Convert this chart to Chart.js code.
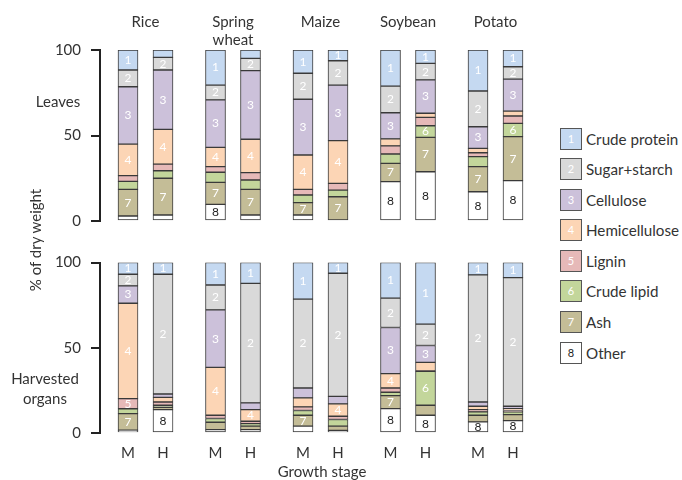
<!DOCTYPE html>
<html>
<head>
<meta charset="utf-8">
<script src="https://cdn.jsdelivr.net/npm/chart.js@4"></script>
<style>
  body { margin: 0; background: #fff; }
  #wrap { position: relative; width: 682px; height: 480px; font-family: Lato, "Open Sans", sans-serif; color: #333; }
  canvas { position: absolute; left: 0; }
  .lbl { position: absolute; font-size: 15px; text-align: center; white-space: nowrap; line-height: 20px; }
  #legend { position: absolute; left: 560px; top: 128px; }
  .item { display: flex; align-items: center; height: 21px; margin-bottom: 9.6px; font-size: 15.2px; }
  .box { width: 20px; height: 20px; border: 1px solid #555; font-size: 11px; text-align: center; line-height: 20px; margin-right: 4px; color: #fff; }
</style>
</head>
<body>
<div id="wrap">
  <canvas id="top" width="545" height="240" style="top:0"></canvas>
  <canvas id="bot" width="545" height="240" style="top:240px"></canvas>
  <div class="lbl" style="left:-30px;top:230px;width:130px;transform:rotate(-90deg)">% of dry weight</div>
  <div class="lbl" style="left:28px;top:91px;width:60px">Leaves</div>
  <div class="lbl" style="left:5px;top:368px;width:80px">Harvested<br>organs</div>
  <div class="lbl" style="left:262px;top:461px;width:120px">Growth stage</div>
  <div id="legend"></div>
</div>
<script>
// crops and growth stages
const crops = ['Rice', 'Spring\nwheat', 'Maize', 'Soybean', 'Potato'];
const stages = ['M', 'H'];

const components = ['Crude protein', 'Sugar+starch', 'Cellulose', 'Hemicellulose', 'Lignin', 'Crude lipid', 'Ash', 'Other'];
const colors = ['#c5d9f1', '#d9d9d9', '#ccc1da', '#fcd5b5', '#e6b9b8', '#c3d69b', '#c4bd97', '#ffffff'];

// leaves, % of dry weight, order: Rice M, Rice H, Spring wheat M, H, Maize M, H, Soybean M, H, Potato M, H
const leafProtein   = [11.7, 4.3, 20.5, 4.9, 13.6, 6.3, 21.1, 7.8, 24.0, 9.8];
const leafSugar     = [9.8, 7.4, 8.7, 7.2, 15.2, 14.2, 15.6, 9.7, 20.9, 7.2];
const leafCellulose = [33.5, 34.7, 27.7, 40.1, 32.6, 32.5, 15.3, 19.5, 12.6, 18.7];
const leafHemi      = [18.5, 20.3, 11.3, 19.5, 20.1, 25.0, 4.1, 2.4, 2.6, 2.9];
const leafLignin    = [3.3, 3.9, 3.3, 4.3, 3.3, 3.9, 4.7, 4.9, 2.3, 4.3];
const leafLipid     = [4.7, 4.4, 5.9, 5.5, 4.5, 3.9, 5.5, 6.8, 5.8, 7.8];
const leafAsh       = [15.6, 21.5, 12.9, 15.0, 7.2, 14.2, 10.7, 20.1, 14.7, 25.7];
const leafOther     = [2.9, 3.5, 9.7, 3.5, 3.5, 0, 23.0, 28.8, 17.1, 23.6];

// harvested organs, same order
const orgProtein   = [6.9, 6.9, 13.2, 12.2, 21.5, 6.3, 20.9, 36.1, 7.3, 8.9];
const orgSugar     = [6.8, 70.2, 14.6, 70.1, 52.1, 72.2, 17.2, 12.6, 74.5, 75.4];
const orgCellulose = [10.2, 2.0, 33.7, 4.0, 5.8, 4.4, 27.1, 9.9, 2.5, 1.4];
const orgHemi      = [55.9, 2.7, 28.1, 6.8, 5.3, 7.3, 8.4, 5.0, 2.0, 1.1];
const orgLignin    = [6.0, 1.9, 1.9, 1.4, 2.1, 1.9, 2.5, 0.3, 1.3, 0.8];
const orgLipid     = [2.8, 1.2, 2.2, 1.5, 2.8, 3.9, 2.0, 19.8, 2.0, 1.6];
const orgAsh       = [9.8, 1.4, 4.3, 2.0, 6.4, 2.5, 7.6, 5.9, 3.9, 3.5];
const orgOther     = [1.6, 13.7, 2.0, 2.0, 4.0, 1.5, 14.3, 10.4, 6.5, 7.3];

const yTicks = [0, 50, 100];

const leafSeries = [leafProtein, leafSugar, leafCellulose, leafHemi, leafLignin, leafLipid, leafAsh, leafOther];
const orgSeries = [orgProtein, orgSugar, orgCellulose, orgHemi, orgLignin, orgLipid, orgAsh, orgOther];

// slot on the x scale for each bar: 5 slots per crop, M at 0 and H at 2
const slots = [];
const slotLabel = {};
crops.forEach((c, ci) => stages.forEach((s, si) => {
  const x = ci * 5 + si * 2;
  slots.push(x);
  slotLabel[x] = s;
}));

const FONT = 'Lato, "Open Sans", sans-serif';
const TXT = '#333';

function makeDatasets(series) {
  const out = [];
  // bottom of stack first: Other ... Crude protein
  for (let k = series.length - 1; k >= 0; k--) {
    out.push({
      label: components[k],
      num: k + 1,
      data: series[k].map((v, i) => ({ x: slots[i], y: v })),
      backgroundColor: colors[k],
      borderColor: '#3a3a3a',
      borderWidth: 1,
      borderSkipped: false,
      barThickness: 20
    });
  }
  return out;
}

// numbers inside the bigger segments
const segLabels = {
  id: 'segLabels',
  afterDatasetsDraw(chart) {
    const ctx = chart.ctx;
    ctx.save();
    ctx.font = '12px ' + FONT;
    ctx.textAlign = 'center';
    ctx.textBaseline = 'middle';
    chart.data.datasets.forEach((ds, i) => {
      chart.getDatasetMeta(i).data.forEach((bar, j) => {
        if (ds.data[j].y < 6) return;
        ctx.fillStyle = ds.num === 8 ? '#222' : '#fff';
        ctx.fillText(String(ds.num), bar.x, (bar.y + bar.base) / 2);
      });
    });
    ctx.restore();
  }
};

// crop names above the top panel
const cropTitles = {
  id: 'cropTitles',
  afterDraw(chart) {
    const ctx = chart.ctx, xs = chart.scales.x;
    ctx.save();
    ctx.font = '15px ' + FONT;
    ctx.fillStyle = TXT;
    ctx.textAlign = 'center';
    ctx.textBaseline = 'middle';
    crops.forEach((c, ci) => {
      const cx = (xs.getPixelForValue(slots[ci * 2]) + xs.getPixelForValue(slots[ci * 2 + 1])) / 2;
      c.split('\n').forEach((line, li) => ctx.fillText(line, cx, 22 + li * 18));
    });
    ctx.restore();
  }
};

function yScale() {
  return {
    stacked: true, min: 0, max: 100,
    afterFit(s) { s.width = 100; },
    afterBuildTicks(s) { s.ticks = yTicks.map(v => ({ value: v })); },
    ticks: { padding: 10, color: TXT, font: { family: FONT, size: 15 } },
    grid: { drawOnChartArea: false, tickLength: 9, color: '#222', lineWidth: 2 },
    border: { color: '#222', width: 2 }
  };
}

function xScale(height, showLabels) {
  return {
    type: 'linear', offset: false, stacked: true, min: -1.6, max: 23.4,
    afterFit(s) { s.height = height; },
    afterBuildTicks(s) { s.ticks = slots.map(v => ({ value: v })); },
    grid: { display: false }, border: { display: false },
    ticks: {
      autoSkip: false, maxRotation: 0, padding: 3,
      color: TXT, font: { family: FONT, size: 15 },
      callback: v => showLabels ? (slotLabel[v] || '') : ''
    }
  };
}

const common = {
  responsive: false,
  animation: false,
  devicePixelRatio: 1,
  plugins: { legend: { display: false }, tooltip: { enabled: false } }
};

new Chart(document.getElementById('top'), {
  type: 'bar',
  data: { datasets: makeDatasets(leafSeries) },
  options: Object.assign({}, common, {
    layout: { padding: { top: 50, bottom: 0, left: 0, right: 7.5 } },
    scales: { x: xScale(14, false), y: yScale() }
  }),
  plugins: [segLabels, cropTitles]
});

new Chart(document.getElementById('bot'), {
  type: 'bar',
  data: { datasets: makeDatasets(orgSeries) },
  options: Object.assign({}, common, {
    layout: { padding: { top: 22.5, bottom: 0, left: 0, right: 7.5 } },
    scales: { x: xScale(47, true), y: yScale() }
  }),
  plugins: [segLabels]
});

// legend
const legend = document.getElementById('legend');
components.forEach((name, k) => {
  const row = document.createElement('div');
  row.className = 'item';
  const box = document.createElement('div');
  box.className = 'box';
  box.style.background = colors[k];
  if (k === 7) box.style.color = '#222';
  box.textContent = k + 1;
  row.appendChild(box);
  row.appendChild(document.createTextNode(name));
  legend.appendChild(row);
});
</script>
</body>
</html>
